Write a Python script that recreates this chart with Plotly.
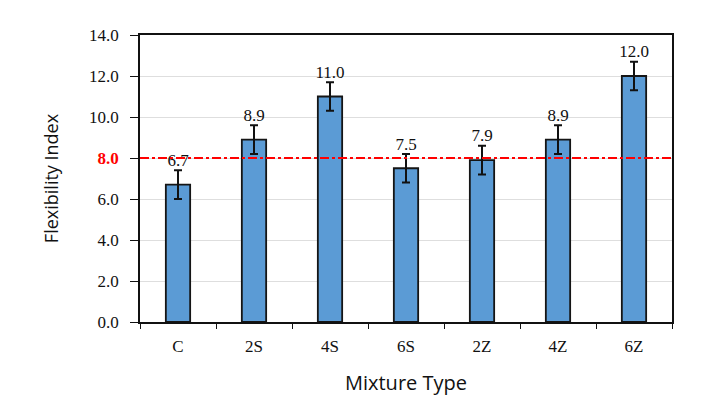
import plotly.graph_objects as go

categories = ["C", "2S", "4S", "6S", "2Z", "4Z", "6Z"]
values = [6.7, 8.9, 11.0, 7.5, 7.9, 8.9, 12.0]
errors = [0.7, 0.7, 0.7, 0.7, 0.7, 0.7, 0.7]
threshold = 8.0
ytick_vals = [0, 2, 4, 6, 8, 10, 12, 14]
ytick_text = ["0.0", "2.0", "4.0", "6.0", "<b><span style='color:#ff0000'>8.0</span></b>", "10.0", "12.0", "14.0"]

serif = "Liberation Serif, Times New Roman, serif"
sans = "Open Sans, Liberation Sans, sans-serif"

fig = go.Figure()
fig.add_trace(go.Bar(
    x=categories, y=values, width=0.32,
    marker=dict(color="#5B9BD5", line=dict(color="#151515", width=1.8)),
    error_y=dict(type="data", array=errors, visible=True, color="#111111", thickness=2, width=4),
    showlegend=False,
))
fig.add_trace(go.Scatter(
    x=categories, y=[v + e for v, e in zip(values, errors)],
    mode="text", text=[f"{v:.1f}" for v in values], textposition="top center",
    textfont=dict(family=serif, size=17, color="#111111"), showlegend=False,
    cliponaxis=False,
))
fig.add_shape(type="line", xref="paper", x0=0, x1=1, yref="y", y0=threshold, y1=threshold,
              line=dict(color="#ff0000", width=2, dash="dashdot"))

fig.update_layout(
    width=710, height=415,
    margin=dict(l=140, r=38, t=35, b=93),
    paper_bgcolor="white", plot_bgcolor="white",
    xaxis=dict(
        title=dict(text="Mixture Type", font=dict(family=sans, size=20, color="#111111"), standoff=21),
        tickfont=dict(family=serif, size=17, color="#111111"),
        showline=True, linecolor="#111111", linewidth=1.5, mirror=True,
        ticks="outside", ticklen=5, tickcolor="#111111",
        tickson="boundaries", ticklabelstandoff=8,
    ),
    yaxis=dict(
        title=dict(text="Flexibility Index", font=dict(family=sans, size=18, color="#111111"), standoff=26),
        range=[0, 14], tickvals=ytick_vals, ticktext=ytick_text,
        tickfont=dict(family=serif, size=17, color="#111111"),
        showline=True, linecolor="#111111", linewidth=1.5, mirror=True,
        ticks="outside", ticklen=8, tickcolor="#111111", ticklabelstandoff=8,
        showgrid=True, gridcolor="#dedede", gridwidth=1,
        zeroline=False,
    ),
)
fig.write_html("out.html")
